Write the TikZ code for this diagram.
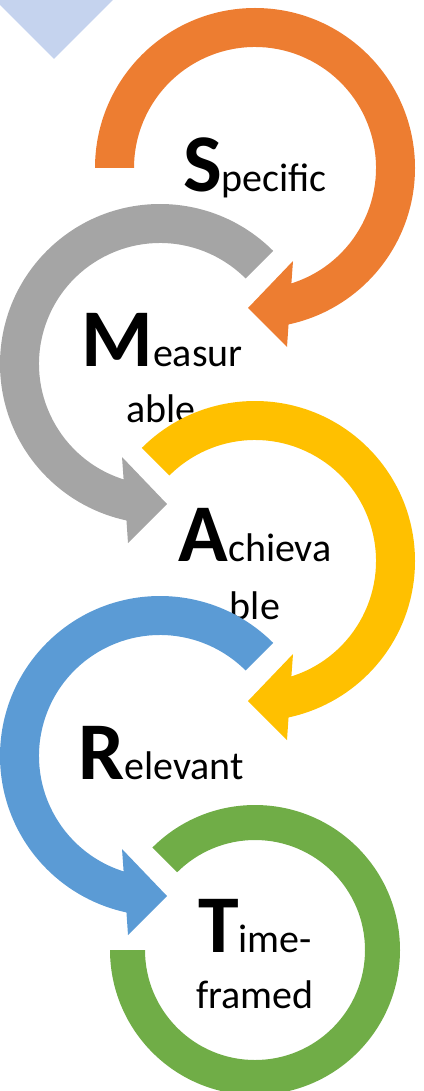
\documentclass[tikz,border=0pt]{standalone}
\usepackage{fontspec}
\setmainfont{Carlito}
\definecolor{cOrange}{HTML}{ED7D31}
\definecolor{cGray}{HTML}{A5A5A5}
\definecolor{cYellow}{HTML}{FFC000}
\definecolor{cBlue}{HTML}{5B9BD5}
\definecolor{cGreen}{HTML}{70AD47}
\definecolor{cTri}{HTML}{C5D3EE}
\newcommand{\bigletter}[1]{{\fontsize{82}{82}\selectfont\bfseries #1}}
\tikzset{
  word/.style={font=\fontsize{40}{48}\selectfont, inner sep=0pt, anchor=base, text=black},
}
\begin{document}
\begin{tikzpicture}[x=1pt,y=1pt]
\useasboundingbox (0,0) rectangle (423,-1091);
\clip (0,0) rectangle (423,-1091);
% light blue triangle
\fill[cTri] (-15,10) -- (123,10) -- (54,-59) -- cycle;
% S : orange arrow
\begin{scope}[shift={(255,-168)}]
\fill[cOrange] (180:160) arc[start angle=180, end angle=-77.9, radius=160]
  -- (32,-179) -- (-7,-140) -- (38,-93)
  -- (-72.5:121) arc[start angle=-72.5, end angle=180, radius=121] -- cycle;
\end{scope}
\node[word] (s) at (255,-192) {\bigletter{S}pecific};
% M : gray arrow
\begin{scope}[shift={(160,-364)}]
\fill[cGray] (45:160) arc[start angle=45, end angle=257.9, radius=160]
  -- (-32,-179) -- (7,-140) -- (-38,-93)
  -- (252.5:121) arc[start angle=252.5, end angle=45, radius=121] -- cycle;
\end{scope}
\node[word] (m1) at (162,-366) {\bigletter{M}easur};
\node[word] (m2) at (161,-422) {able};
% A : yellow arrow
\begin{scope}[shift={(255,-561)}]
\fill[cYellow] (135:160) arc[start angle=135, end angle=-77.9, radius=160]
  -- (32,-179) -- (-7,-140) -- (38,-93)
  -- (-72.5:121) arc[start angle=-72.5, end angle=135, radius=121] -- cycle;
\end{scope}
\node[word] (a1) at (255,-561) {\bigletter{A}chieva};
\node[word] (a2) at (255,-619) {ble};
% R : blue arrow
\begin{scope}[shift={(160,-756)}]
\fill[cBlue] (45:160) arc[start angle=45, end angle=257.9, radius=160]
  -- (-32,-179) -- (7,-140) -- (-38,-93)
  -- (252.5:121) arc[start angle=252.5, end angle=45, radius=121] -- cycle;
\end{scope}
\node[word] (r) at (161,-779) {\bigletter{R}elevant};
% T : green ring
\begin{scope}[shift={(255,-950)}]
\fill[cGreen] (135:145) arc[start angle=135, end angle=-180, radius=145]
  -- (180:110) arc[start angle=-180, end angle=135, radius=110] -- cycle;
\end{scope}
\node[word] (t1) at (255,-952) {\bigletter{T}ime-};
\node[word] (t2) at (255,-1008) {framed};
\end{tikzpicture}
\end{document}
